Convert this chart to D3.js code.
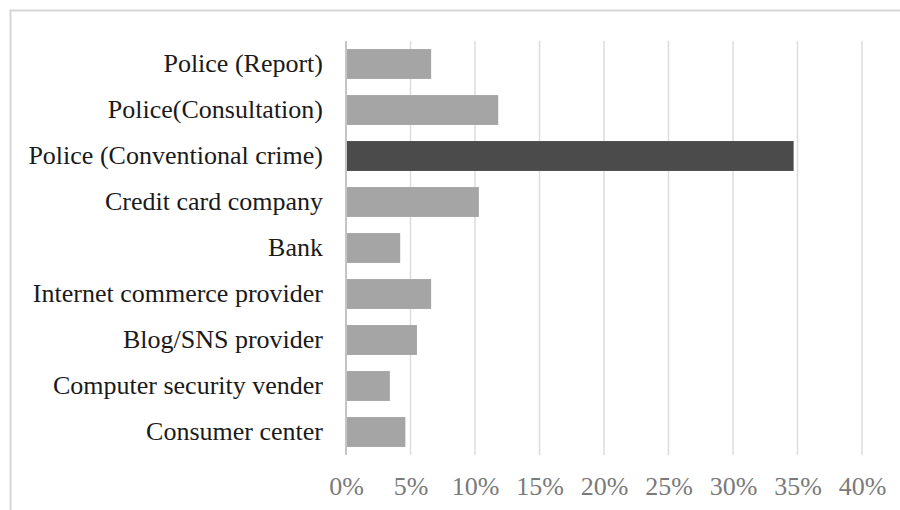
<!DOCTYPE html>
<html>
<head>
<meta charset="utf-8">
<script src="https://cdn.jsdelivr.net/npm/d3@7"></script>
<style>
  body { margin: 0; background: #fff; }
</style>
</head>
<body>
<div id="chart"></div>
<script>
// categories top to bottom
const categories = [
  "Police (Report)",
  "Police(Consultation)",
  "Police (Conventional crime)",
  "Credit card company",
  "Bank",
  "Internet commerce provider",
  "Blog/SNS provider",
  "Computer security vender",
  "Consumer center"
];
const shares = [0.066, 0.118, 0.347, 0.103, 0.042, 0.066, 0.055, 0.034, 0.046];
const highlighted = ["Police (Conventional crime)"];
const xTicks = [0, 0.05, 0.10, 0.15, 0.20, 0.25, 0.30, 0.35, 0.40];

const width = 900, height = 510;
const margin = { top: 41, right: 38, bottom: 55, left: 346 };
const font = "'Liberation Serif', 'Times New Roman', serif";

const svg = d3.select("#chart").append("svg")
  .attr("width", width)
  .attr("height", height)
  .style("font-family", font);

// outer frame (only top/left edges visible in the crop)
svg.append("rect")
  .attr("x", 10.5).attr("y", 10.5)
  .attr("width", width + 20).attr("height", height + 20)
  .attr("fill", "none")
  .attr("stroke", "#d6d6d6")
  .attr("stroke-width", 2);

const x = d3.scaleLinear()
  .domain([0, 0.40])
  .range([margin.left, width - margin.right]);

const y = d3.scaleBand()
  .domain(categories)
  .range([margin.top, height - margin.bottom])
  .paddingInner(0.35)
  .paddingOuter(0.175);

// gridlines
svg.append("g")
  .selectAll("line")
  .data(xTicks.slice(1))
  .join("line")
  .attr("x1", d => x(d)).attr("x2", d => x(d))
  .attr("y1", margin.top).attr("y2", height - margin.bottom)
  .attr("stroke", "#dcdcdc")
  .attr("stroke-width", 1.5);

// bars
svg.append("g")
  .selectAll("rect")
  .data(categories.map((c, i) => ({ cat: c, v: shares[i] })))
  .join("rect")
  .attr("x", x(0))
  .attr("y", d => y(d.cat))
  .attr("width", d => x(d.v) - x(0))
  .attr("height", y.bandwidth())
  .attr("fill", d => highlighted.includes(d.cat) ? "#4b4b4b" : "#a5a5a5");

// category axis line at 0
svg.append("line")
  .attr("x1", x(0)).attr("x2", x(0))
  .attr("y1", margin.top).attr("y2", height - margin.bottom)
  .attr("stroke", "#c4c4c4")
  .attr("stroke-width", 2);

// category labels
svg.append("g")
  .selectAll("text")
  .data(categories)
  .join("text")
  .attr("x", x(0) - 23)
  .attr("y", d => y(d) + y.bandwidth() / 2)
  .attr("dy", "0.32em")
  .attr("text-anchor", "end")
  .attr("fill", "#1a1a1a")
  .style("font-size", "26px")
  .text(d => d);

// value axis
const xAxis = d3.axisBottom(x)
  .tickValues(xTicks)
  .tickFormat(d3.format(".0%"))
  .tickSize(0)
  .tickPadding(0);

const gx = svg.append("g")
  .attr("transform", `translate(0,${height - 15})`)
  .call(xAxis);
gx.select(".domain").remove();
gx.selectAll("text")
  .attr("dy", 0)
  .attr("fill", "#7a7a7a")
  .style("font-family", font)
  .style("font-size", "26px");
</script>
</body>
</html>
